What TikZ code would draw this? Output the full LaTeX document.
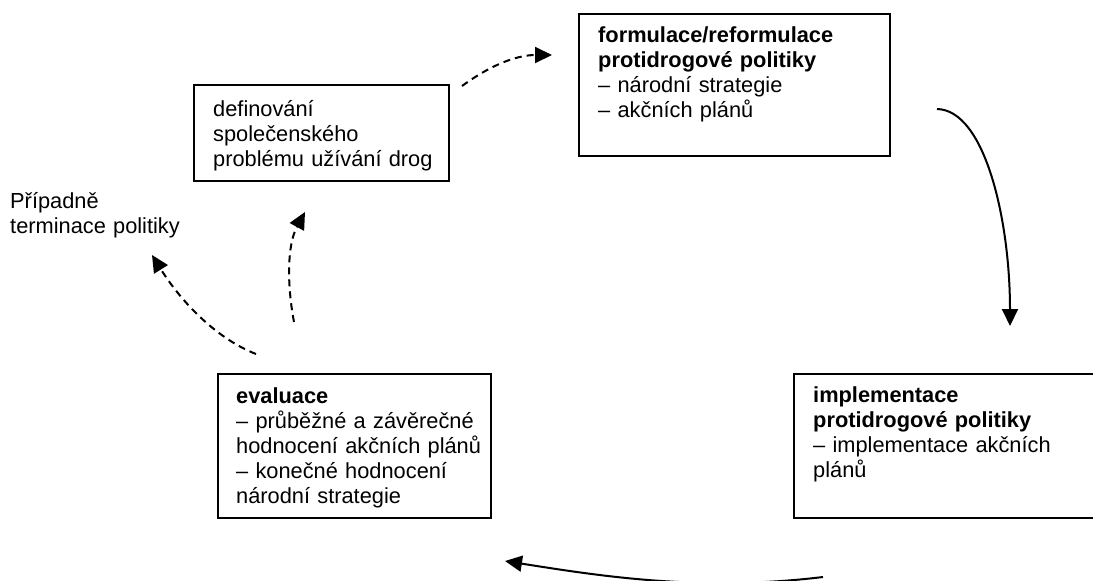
\documentclass[tikz,border=0pt]{standalone}
\usepackage{fontspec}
\setmainfont{Liberation Sans}
\usetikzlibrary{arrows.meta}

\begin{document}
\begin{tikzpicture}[x=1pt, y=-1pt,
    frame/.style={draw, line width=1.8pt, anchor=north west, inner sep=0pt},
    boxtext/.style={anchor=base west, inner sep=0pt, text width=290pt, align=left, font=\fontsize{21.8}{25}\selectfont},
    dashedarrow/.style={dash pattern=on 7pt off 5pt, line width=2pt, -{Triangle[length=17pt,width=16pt]}},
    solidarrow/.style={line width=2pt, -{Triangle[length=17pt,width=16pt]}}]

    \useasboundingbox (0,0) rectangle (1093,581);
    \clip (0,0) rectangle (1093,581);

    % The four boxes
    \node[frame, minimum width=255pt, minimum height=96pt] (defbox) at (193,84) {};
    \node[frame, minimum width=311pt, minimum height=142pt] (formbox) at (578,13) {};
    \node[frame, minimum width=330pt, minimum height=144pt] (implbox) at (793,373) {};
    \node[frame, minimum width=273pt, minimum height=144pt] (evalbox) at (217,373) {};

    % Texts in the boxes
    \node[boxtext] (deftext) at ([shift={(20,32)}]defbox.north west)
        {definování\\ společenského\\ problému užívání drog};

    \node[boxtext] (formtext) at ([shift={(20,29)}]formbox.north west)
        {\textbf{formulace/reformulace}\\ \textbf{protidrogové politiky}\\ – národní strategie\\ – akčních plánů};

    \node[boxtext] (impltext) at ([shift={(20,29)}]implbox.north west)
        {\textbf{implementace}\\ \textbf{protidrogové politiky}\\ – implementace akčních\\ plánů};

    \node[boxtext] (evaltext) at ([shift={(19,30)}]evalbox.north west)
        {\textbf{evaluace}\\ – průběžné a závěrečné\\ hodnocení akčních plánů\\ – konečné hodnocení\\ národní strategie};

    \node[boxtext] (termtext) at (10,208) {Případně\\ terminace politiky};

    % Ends of the arrows
    \coordinate (a1) at (462,86);
    \coordinate (b1) at (552,55);

    \coordinate (a2) at (937,109);
    \coordinate (b2) at (1010,326);

    \coordinate (a3) at (823,577);
    \coordinate (b3) at (505,561);

    \coordinate (a4) at (294,322);
    \coordinate (b4) at (305,212);

    \coordinate (a5) at (256,354);
    \coordinate (b5) at (152,255);

    \draw [dashedarrow](a1) .. controls (495,62) and (520,55) .. (b1);
    \draw [solidarrow](a2) .. controls (985,110) and (1010,220) .. (b2);
    \draw [solidarrow](a3) .. controls (700,592) and (600,576) .. (b3);
    \draw [dashedarrow](a4) .. controls (287,285) and (287,245) .. (b4);
    \draw [dashedarrow](a5) .. controls (215,338) and (180,300) .. (b5);

\end{tikzpicture}
\end{document}
